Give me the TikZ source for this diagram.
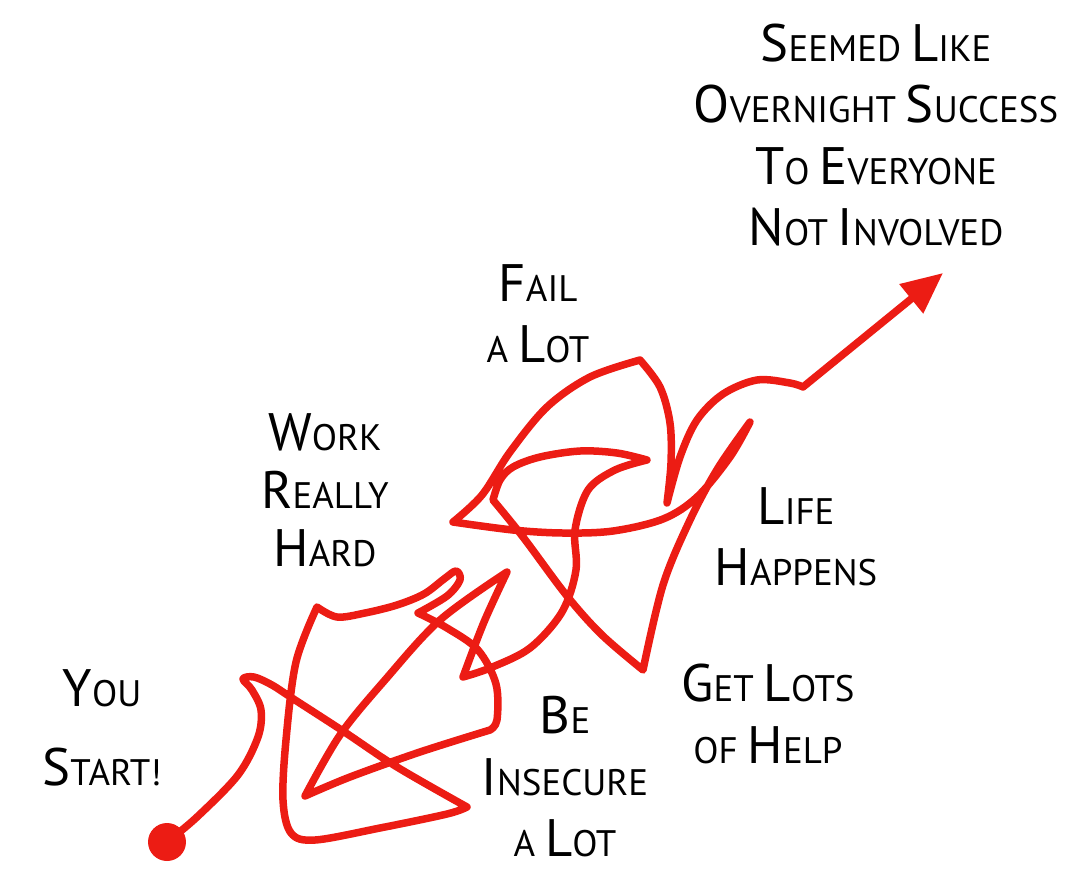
\documentclass[tikz,border=0pt]{standalone}
\usepackage{fontspec}
\setmainfont{PT Sans}
\usetikzlibrary{arrows.meta}
\definecolor{pen}{RGB}{236,28,20}
\newcommand{\bl}[1]{{\fontsize{30}{30}\selectfont #1}}

\begin{document}
\begin{tikzpicture}[x=0.02cm,y=-0.02cm,line cap=round,line join=round]
              \tikzstyle{lettering}=[align=center,font=\fontsize{21}{35}\selectfont,inner sep=0pt];
              \tikzstyle{squiggle}=[draw=pen,line width=0.15cm];
                \useasboundingbox (0,0) rectangle (1073,870);

                \path (876,135) node[lettering] (seemed) {\bl{S}EEMED \bl{L}IKE\\\bl{O}VERNIGHT \bl{S}UCCESS\\\bl{T}O \bl{E}VERYONE\\\bl{N}OT \bl{I}NVOLVED};
                \path (538,314) node[lettering] (fail) {\bl{F}AIL\\A \bl{L}OT};
                \path (325,490) node[lettering] (work) {\bl{W}ORK\\[-2pt]\bl{R}EALLY\\[-2pt]\bl{H}ARD};
                \path (796,537) node[lettering] (life) {\bl{L}IFE\\\bl{H}APPENS};
                \path (102,728) node[lettering] (you) {\bl{Y}OU\\[10pt]\bl{S}TART!};
                \path (565,777) node[lettering] (insecure) {\bl{B}E\\\bl{I}NSECURE\\A \bl{L}OT};
                \path (768,714) node[lettering] (help) {\bl{G}ET \bl{L}OTS\\OF \bl{H}ELP};

                \path[fill=pen] (167,842) node[circle,fill=pen,minimum size=0.76cm,inner sep=0pt] (start) {};
                \coordinate (goal) at (943,273);

                \path[squiggle,-{Triangle[length=0.82cm,width=0.72cm]}] (start.center)
                  -- plot[smooth,tension=0.55] coordinates {(167,842) (197,817) (238,775) (258,737) (261,710) (252,690) (243,679) (254,677) (272,685) (292,698) (343,731) (397,767) (467,807)}
                  -- plot[smooth,tension=0.55] coordinates {(467,807) (447,814) (380,828) (315,840) (291,833) (283,800) (286,740) (296,662) (317,607)}
                  -- plot[smooth,tension=0.55] coordinates {(317,607) (337,617) (365,613) (397,605) (424,594) (444,579) (456,571) (460,580) (447,596) (418,613)}
                  -- plot[smooth,tension=0.55] coordinates {(418,613) (447,628) (478,650) (496,684) (497,720) (490,730)}
                  -- plot[smooth,tension=0.55] coordinates {(490,730) (420,752) (350,777) (305,796)}
                  -- plot[smooth,tension=0.55] coordinates {(305,796) (340,735) (385,680) (440,620) (507,572)}
                  -- plot[smooth,tension=0.55] coordinates {(507,572) (484,622) (463,677)}
                  -- plot[smooth,tension=0.55] coordinates {(463,677) (490,668) (530,648) (562,612) (576,570) (575,530) (588,490) (615,470) (647,460)}
                  -- plot[smooth,tension=0.55] coordinates {(647,460) (617,453) (580,451) (540,457) (513,467) (500,480) (493,500)}
                  -- plot[smooth,tension=0.55] coordinates {(493,500) (523,537) (567,596) (602,635) (643,670)}
                  -- plot[smooth,tension=0.55] coordinates {(643,670) (663,585) (690,520) (718,468) (750,422)}
                  -- plot[smooth,tension=0.55] coordinates {(750,422) (730,457) (697,497) (663,519) (613,531) (563,533) (513,530) (453,522)}
                  -- plot[smooth,tension=0.55] coordinates {(453,522) (482,495) (510,452) (547,407) (590,377) (640,360)}
                  -- plot[smooth,tension=0.55] coordinates {(640,360) (660,387) (670,423) (671,463) (667,503)}
                  -- plot[smooth,tension=0.55] coordinates {(667,503) (680,457) (697,420) (723,394) (757,380) (790,383) (803,387)}
                  -- (goal);
            \end{tikzpicture}
\end{document}
